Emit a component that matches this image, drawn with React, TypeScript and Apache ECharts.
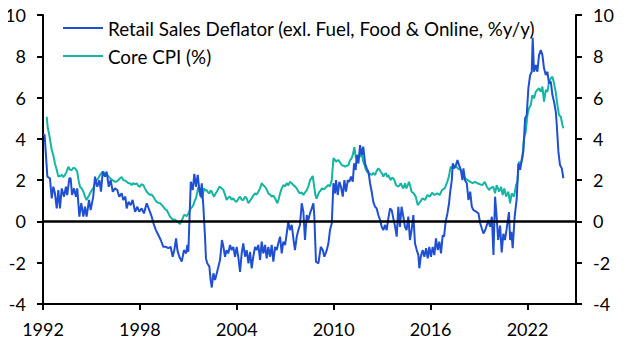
import React, { useEffect, useRef } from "react";
import * as echarts from "echarts";

const seriesNames = [
  "Retail Sales Deflator (exl. Fuel, Food & Online, %y/y)",
  "Core CPI (%)",
];

const xTickYears = [1992, 1998, 2004, 2010, 2016, 2022];

// [decimal year, %y/y]
const retailSalesDeflator: [number, number][] = [
  [1992.0, 4.2], [1992.1, 4.2], [1992.27, 2.17], [1992.43, 2.09], [1992.54, 1.12], [1992.64, 1.68],
  [1992.74, 1.36], [1992.85, 0.63], [1992.95, 1.52], [1993.05, 0.63], [1993.16, 1.6], [1993.3, 1.2],
  [1993.42, 1.68], [1993.5, 1.28], [1993.63, 2.09], [1993.71, 2.09], [1993.8, 1.28], [1993.92, 1.6],
  [1994.04, 1.2], [1994.12, 1.6], [1994.25, 0.23], [1994.37, 0.88], [1994.5, 0.23], [1994.6, 0.71],
  [1994.7, 0.23], [1994.85, 1.04], [1994.95, 0.55], [1995.11, 1.2], [1995.22, 2.17], [1995.36, 1.68],
  [1995.49, 2.0], [1995.59, 1.44], [1995.7, 2.41], [1995.84, 2.17], [1995.94, 2.41], [1996.07, 1.68],
  [1996.19, 2.0], [1996.32, 1.44], [1996.46, 1.6], [1996.6, 1.52], [1996.72, 1.2], [1996.87, 1.36],
  [1996.97, 1.04], [1997.1, 1.2], [1997.18, 0.63], [1997.3, 0.95], [1997.43, 0.79], [1997.55, 1.04],
  [1997.7, 0.47], [1997.84, 0.71], [1997.96, 0.47], [1998.11, 0.63], [1998.25, 0.39], [1998.42, 0.88],
  [1998.58, 0.55], [1998.73, 0.23], [1998.87, -0.17], [1998.99, -0.42], [1999.14, -0.66], [1999.29, -0.9],
  [1999.45, -1.23], [1999.62, -1.23], [1999.76, -1.3], [1999.9, -1.23], [2000.03, -1.71], [2000.13, -1.39],
  [2000.24, -0.82], [2000.32, -1.39], [2000.44, -1.71], [2000.59, -1.95], [2000.73, -1.39], [2000.86, -1.55],
  [2000.94, -1.14], [2001.0, -1.47], [2001.06, -0.09], [2001.15, 1.92], [2001.27, 1.52], [2001.37, 2.3],
  [2001.47, 1.68], [2001.58, 2.25], [2001.66, 1.68], [2001.76, 1.2], [2001.83, 1.85], [2001.93, 0.71],
  [2002.03, -0.74], [2002.09, -1.79], [2002.17, -2.03], [2002.3, -2.19], [2002.38, -2.84], [2002.45, -3.2],
  [2002.55, -2.51], [2002.65, -2.84], [2002.76, -2.51], [2002.86, -2.19], [2002.96, -1.87], [2003.08, -0.9],
  [2003.17, -1.23], [2003.27, -1.71], [2003.37, -1.39], [2003.47, -1.55], [2003.58, -1.14], [2003.68, -1.39],
  [2003.78, -1.23], [2003.89, -1.71], [2003.99, -1.23], [2004.09, -1.71], [2004.2, -2.44], [2004.3, -1.55],
  [2004.4, -1.06], [2004.51, -1.71], [2004.61, -1.39], [2004.72, -2.03], [2004.82, -1.47], [2004.92, -2.27],
  [2005.02, -1.71], [2005.13, -1.23], [2005.23, -1.39], [2005.33, -1.14], [2005.44, -1.87], [2005.54, -0.98],
  [2005.64, -1.55], [2005.75, -1.14], [2005.85, -1.79], [2005.95, -1.23], [2006.06, -1.71], [2006.16, -1.14],
  [2006.26, -1.95], [2006.37, -1.23], [2006.47, -1.39], [2006.57, -1.06], [2006.68, -0.74], [2006.78, -1.55],
  [2006.88, -0.98], [2006.99, -1.14], [2007.09, -0.58], [2007.19, -0.01], [2007.29, -0.42], [2007.4, -0.17],
  [2007.5, -0.82], [2007.6, -1.39], [2007.71, -0.74], [2007.81, -0.42], [2007.91, -0.17], [2008.02, 0.88],
  [2008.12, 0.47], [2008.22, -0.9], [2008.33, 0.31], [2008.43, 0.07], [2008.53, 0.39], [2008.64, 0.63],
  [2008.74, 0.88], [2008.8, 0.23], [2008.9, -1.95], [2009.05, -2.03], [2009.2, -1.23], [2009.32, -1.39],
  [2009.42, -1.71], [2009.57, -1.39], [2009.67, -1.06], [2009.77, -0.42], [2009.88, -0.09], [2009.98, 1.85],
  [2010.08, 1.36], [2010.14, 2.0], [2010.25, 1.28], [2010.35, 1.92], [2010.45, 1.68], [2010.56, 1.2],
  [2010.66, 2.0], [2010.76, 1.44], [2010.87, 2.0], [2010.97, 1.92], [2011.07, 2.17], [2011.18, 1.92],
  [2011.26, 2.81], [2011.36, 2.49], [2011.42, 3.22], [2011.53, 2.81], [2011.63, 3.7], [2011.73, 3.22],
  [2011.83, 3.62], [2011.94, 2.81], [2012.04, 2.57], [2012.15, 2.41], [2012.25, 1.85], [2012.35, 1.44],
  [2012.45, 0.95], [2012.56, 0.71], [2012.66, 0.63], [2012.76, 0.31], [2012.87, 0.07], [2012.97, -0.26],
  [2013.07, -0.42], [2013.18, -0.17], [2013.28, -0.42], [2013.38, 0.15], [2013.49, 0.63], [2013.59, 0.55],
  [2013.69, 0.15], [2013.8, -0.26], [2013.9, -0.74], [2014.0, 0.71], [2014.1, -0.26], [2014.2, 0.71],
  [2014.31, 0.23], [2014.41, -0.26], [2014.51, -0.42], [2014.62, 0.23], [2014.72, -0.9], [2014.82, -0.42],
  [2014.93, 0.31], [2015.03, -1.06], [2015.14, -1.39], [2015.24, -1.63], [2015.3, -2.27], [2015.39, -1.71],
  [2015.51, -1.39], [2015.61, -1.71], [2015.72, -1.3], [2015.82, -1.79], [2015.92, -1.23], [2016.02, -1.71],
  [2016.13, -1.23], [2016.23, -1.63], [2016.33, -0.82], [2016.44, -1.39], [2016.54, -0.98], [2016.64, -1.55],
  [2016.75, -0.66], [2016.83, -0.74], [2016.93, -0.01], [2017.04, 0.39], [2017.14, 0.88], [2017.2, 1.36],
  [2017.31, 2.0], [2017.37, 2.81], [2017.47, 2.57], [2017.57, 2.73], [2017.66, 2.97], [2017.76, 2.73],
  [2017.87, 2.49], [2017.97, 2.0], [2018.03, 2.57], [2018.13, 2.0], [2018.24, 1.85], [2018.34, 1.04],
  [2018.45, 1.44], [2018.55, 0.71], [2018.65, 0.55], [2018.82, 0.47], [2018.96, 0.39], [2019.07, -0.09],
  [2019.17, -0.34], [2019.27, -0.58], [2019.38, -0.42], [2019.48, -0.17], [2019.58, 0.07], [2019.68, -0.26],
  [2019.79, 0.23], [2019.89, -1.63], [2019.99, 1.2], [2020.08, 0.3], [2020.18, -0.9], [2020.3, -0.2],
  [2020.4, -1.5], [2020.5, -0.6], [2020.6, -0.9], [2020.7, -0.4], [2020.85, 0.45], [2020.92, -0.9],
  [2021.0, -0.5], [2021.08, -1.3], [2021.2, 0.2], [2021.33, 1.1], [2021.43, 2.8], [2021.54, 2.5],
  [2021.64, 3.0], [2021.74, 3.4], [2021.85, 5.0], [2021.95, 5.15], [2022.05, 6.45], [2022.16, 7.09],
  [2022.26, 7.25], [2022.32, 8.9], [2022.4, 7.25], [2022.51, 7.58], [2022.61, 7.25], [2022.71, 8.06],
  [2022.82, 8.3], [2022.92, 8.06], [2023.02, 7.42], [2023.13, 7.09], [2023.23, 7.25], [2023.33, 6.69],
  [2023.44, 6.77], [2023.54, 6.12], [2023.64, 5.8], [2023.75, 5.31], [2023.81, 4.67], [2023.91, 3.38],
  [2024.01, 2.73], [2024.12, 2.57], [2024.22, 2.09],
];

// [decimal year, %]
const coreCpi: [number, number][] = [
  [1992.23, 5.07], [1992.3, 4.5], [1992.37, 4.27], [1992.45, 3.9], [1992.54, 3.46], [1992.64, 3.2],
  [1992.74, 2.81], [1992.85, 2.5], [1992.95, 2.17], [1993.05, 2.2], [1993.16, 2.25], [1993.26, 2.15],
  [1993.36, 2.25], [1993.46, 2.4], [1993.57, 2.65], [1993.67, 2.5], [1993.78, 2.49], [1993.88, 2.6],
  [1993.98, 2.57], [1994.05, 2.5], [1994.12, 2.41], [1994.2, 2.0], [1994.29, 1.68], [1994.4, 1.6],
  [1994.5, 1.44], [1994.6, 1.2], [1994.7, 1.04], [1994.8, 1.2], [1994.91, 1.36], [1995.01, 1.5],
  [1995.11, 1.6], [1995.22, 1.85], [1995.32, 2.0], [1995.43, 2.1], [1995.53, 2.25], [1995.63, 2.35],
  [1995.73, 2.41], [1995.84, 2.3], [1995.94, 2.25], [1996.05, 2.2], [1996.15, 2.09], [1996.3, 2.0],
  [1996.46, 1.92], [1996.6, 1.95], [1996.77, 2.09], [1996.87, 2.15], [1996.97, 2.0], [1997.08, 1.98],
  [1997.18, 1.92], [1997.29, 1.85], [1997.39, 1.85], [1997.49, 1.76], [1997.59, 1.85], [1997.7, 1.8],
  [1997.8, 1.85], [1997.9, 1.72], [1998.0, 1.68], [1998.1, 1.8], [1998.21, 1.76], [1998.31, 1.6],
  [1998.42, 1.44], [1998.52, 1.35], [1998.63, 1.28], [1998.73, 1.3], [1998.83, 1.2], [1998.94, 1.05],
  [1999.04, 0.95], [1999.15, 0.9], [1999.25, 0.88], [1999.35, 0.8], [1999.45, 0.71], [1999.56, 0.6],
  [1999.66, 0.55], [1999.76, 0.4], [1999.86, 0.23], [1999.96, 0.15], [2000.07, 0.07], [2000.17, 0.1],
  [2000.28, -0.01], [2000.38, -0.05], [2000.48, -0.13], [2000.56, 0.0], [2000.65, 0.15], [2000.72, 0.3],
  [2000.79, 0.31], [2000.9, 0.25], [2001.0, 0.39], [2001.08, 0.5], [2001.15, 0.63], [2001.23, 0.7],
  [2001.31, 0.79], [2001.39, 1.0], [2001.47, 1.12], [2001.55, 1.4], [2001.62, 1.68], [2001.72, 1.36],
  [2001.83, 1.12], [2001.9, 1.3], [2001.97, 1.6], [2002.05, 1.5], [2002.13, 1.52], [2002.22, 1.4],
  [2002.3, 1.36], [2002.38, 1.5], [2002.45, 1.44], [2002.52, 1.3], [2002.59, 1.2], [2002.68, 1.35],
  [2002.76, 1.44], [2002.84, 1.55], [2002.92, 1.68], [2003.0, 1.65], [2003.07, 1.6], [2003.17, 1.52],
  [2003.27, 1.3], [2003.37, 1.04], [2003.47, 1.15], [2003.58, 1.2], [2003.68, 1.05], [2003.78, 1.12],
  [2003.89, 1.0], [2003.99, 0.95], [2004.1, 1.1], [2004.2, 1.2], [2004.3, 1.05], [2004.4, 1.04],
  [2004.51, 1.2], [2004.61, 1.12], [2004.72, 0.88], [2004.82, 1.0], [2004.92, 1.12], [2005.02, 1.25],
  [2005.13, 1.36], [2005.23, 1.3], [2005.33, 1.44], [2005.44, 1.6], [2005.54, 1.85], [2005.64, 1.75],
  [2005.75, 1.68], [2005.85, 1.55], [2005.95, 1.36], [2006.06, 1.3], [2006.16, 1.2], [2006.26, 1.25],
  [2006.37, 1.12], [2006.44, 1.0], [2006.51, 0.88], [2006.6, 1.1], [2006.68, 1.36], [2006.78, 1.6],
  [2006.88, 1.76], [2006.99, 1.7], [2007.09, 1.85], [2007.19, 1.75], [2007.29, 1.92], [2007.4, 1.85],
  [2007.5, 1.76], [2007.6, 1.7], [2007.71, 1.6], [2007.81, 1.45], [2007.91, 1.36], [2008.02, 1.4],
  [2008.12, 1.28], [2008.22, 1.4], [2008.33, 1.52], [2008.43, 1.7], [2008.53, 2.0], [2008.62, 2.1],
  [2008.7, 2.2], [2008.78, 1.76], [2008.86, 1.3], [2008.94, 1.1], [2009.03, 1.3], [2009.11, 1.44],
  [2009.2, 1.5], [2009.26, 1.6], [2009.36, 1.55], [2009.46, 1.6], [2009.57, 1.7], [2009.67, 1.76],
  [2009.77, 1.7], [2009.88, 2.0], [2009.98, 3.06], [2010.06, 3.0], [2010.14, 2.89], [2010.22, 2.95],
  [2010.29, 2.97], [2010.4, 2.85], [2010.5, 2.73], [2010.6, 2.7], [2010.71, 2.65], [2010.81, 2.7],
  [2010.91, 2.73], [2011.01, 2.97], [2011.1, 3.05], [2011.18, 3.22], [2011.28, 3.6], [2011.33, 3.3],
  [2011.38, 3.06], [2011.45, 3.1], [2011.53, 3.22], [2011.63, 3.13], [2011.73, 3.3], [2011.83, 2.89],
  [2011.92, 2.7], [2012.0, 2.49], [2012.08, 2.4], [2012.15, 2.33], [2012.25, 2.3], [2012.35, 2.25],
  [2012.45, 2.35], [2012.56, 2.25], [2012.66, 2.45], [2012.76, 2.57], [2012.84, 2.5], [2012.91, 2.41],
  [2013.0, 2.3], [2013.07, 2.17], [2013.16, 2.3], [2013.24, 2.33], [2013.31, 2.15], [2013.38, 2.25],
  [2013.46, 2.1], [2013.53, 2.0], [2013.61, 2.12], [2013.69, 2.09], [2013.78, 1.95], [2013.86, 1.76],
  [2014.0, 1.68], [2014.08, 1.76], [2014.15, 1.85], [2014.23, 1.7], [2014.31, 1.6], [2014.41, 1.85],
  [2014.5, 1.6], [2014.58, 1.75], [2014.66, 1.92], [2014.74, 1.7], [2014.82, 1.44], [2014.95, 1.36],
  [2015.08, 1.2], [2015.2, 0.79], [2015.3, 0.9], [2015.35, 0.95], [2015.5, 1.12], [2015.65, 1.04],
  [2015.8, 1.28], [2015.95, 1.2], [2016.09, 1.39], [2016.25, 1.28], [2016.41, 1.36], [2016.56, 1.28],
  [2016.7, 1.52], [2016.87, 1.6], [2017.03, 1.92], [2017.13, 2.17], [2017.24, 2.65], [2017.38, 2.57],
  [2017.52, 2.73], [2017.68, 2.57], [2017.84, 2.49], [2017.98, 2.33], [2018.13, 2.09], [2018.3, 2.0],
  [2018.46, 1.92], [2018.6, 1.85], [2018.75, 1.92], [2018.9, 1.85], [2019.05, 1.8], [2019.2, 1.76],
  [2019.35, 1.92], [2019.48, 1.68], [2019.63, 1.52], [2019.68, 1.6], [2019.88, 1.68], [2019.99, 1.36],
  [2020.09, 1.76], [2020.24, 1.44], [2020.36, 1.68], [2020.46, 1.28], [2020.56, 1.6], [2020.67, 1.2],
  [2020.81, 1.44], [2020.92, 0.88], [2021.02, 1.36], [2021.16, 1.2], [2021.29, 1.76], [2021.37, 1.92],
  [2021.47, 2.89], [2021.58, 2.73], [2021.68, 3.06], [2021.78, 4.03], [2021.89, 4.35], [2021.99, 5.15],
  [2022.09, 5.48], [2022.2, 5.64], [2022.3, 6.12], [2022.4, 5.96], [2022.51, 6.28], [2022.61, 6.37],
  [2022.71, 6.45], [2022.82, 6.28], [2022.92, 6.53], [2023.02, 5.8], [2023.13, 6.37], [2023.23, 6.28],
  [2023.33, 6.77], [2023.44, 6.93], [2023.54, 7.01], [2023.64, 6.69], [2023.74, 6.28], [2023.85, 5.64],
  [2023.95, 5.15], [2024.06, 5.07], [2024.16, 4.67], [2024.22, 4.51],
];

const FONT = "Lato";
const BLUE = "#1f4fd2";
const TEAL = "#14b5a2";

export default function App() {
  const ref = useRef<HTMLDivElement>(null);

  useEffect(() => {
    if (!ref.current) return;
    const chart = echarts.init(ref.current, null, { renderer: "svg" });
    const yAxisCommon = {
      type: "value",
      min: -4,
      max: 10,
      interval: 2,
      splitLine: { show: false },
      axisLine: { show: true, lineStyle: { color: "#000", width: 2 } },
      axisTick: { show: true, inside: false, length: 6, lineStyle: { color: "#000", width: 2 } },
      axisLabel: { color: "#000", fontSize: 18, fontFamily: FONT, margin: 17 },
    };
    chart.setOption({
      animation: false,
      backgroundColor: "#fff",
      grid: { left: 43, right: 53, top: 15, bottom: 50, containLabel: false },
      legend: {
        orient: "vertical",
        left: 63,
        top: 18,
        padding: 0,
        icon: "rect",
        itemWidth: 40,
        itemHeight: 2,
        itemGap: 8,
        textStyle: { color: "#000", fontSize: 18.8, fontFamily: FONT, lineHeight: 20, padding: [0, 0, 0, 0] },
        data: seriesNames,
      },
      xAxis: {
        type: "value",
        min: 1992,
        max: 2025,
        interval: 6,
        splitLine: { show: false },
        axisLine: { onZero: false, lineStyle: { color: "#000", width: 2 } },
        axisTick: {
          show: true,
          length: 6,
          customValues: xTickYears,
          lineStyle: { color: "#000", width: 2 },
        },
        axisLabel: {
          color: "#000",
          fontSize: 18,
          fontFamily: FONT,
          margin: 16,
          customValues: xTickYears,
          formatter: (v: number) => String(v),
        },
      },
      yAxis: [
        { ...yAxisCommon, position: "left" },
        { ...yAxisCommon, position: "right" },
      ],
      series: [
        {
          name: seriesNames[0],
          type: "line",
          data: retailSalesDeflator,
          symbol: "none",
          lineStyle: { color: BLUE, width: 2 },
          itemStyle: { color: BLUE },
          z: 3,
          markLine: {
            silent: true,
            symbol: "none",
            label: { show: false },
            lineStyle: { color: "#000", width: 2.5, type: "solid" },
            data: [{ yAxis: 0 }],
            z: 5,
          },
        },
        {
          name: seriesNames[1],
          type: "line",
          data: coreCpi,
          symbol: "none",
          lineStyle: { color: TEAL, width: 2 },
          itemStyle: { color: TEAL },
          z: 2,
        },
      ],
    });
    return () => chart.dispose();
  }, []);

  return <div ref={ref} style={{ width: 629, height: 354, margin: -8 }} />;
}
